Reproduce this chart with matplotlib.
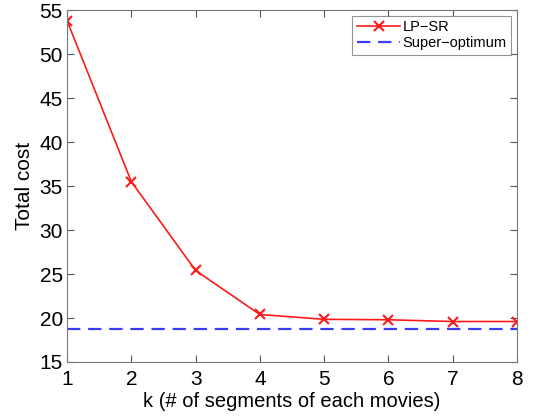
import matplotlib
matplotlib.use("Agg")
import matplotlib.pyplot as plt

k_values = [1, 2, 3, 4, 5, 6, 7, 8]
lp_sr = [53.8, 35.5, 25.4, 20.4, 19.85, 19.8, 19.6, 19.6]
super_optimum = 18.7
x_ticks = [1, 2, 3, 4, 5, 6, 7, 8]
y_ticks = [15, 20, 25, 30, 35, 40, 45, 50, 55]

plt.rcParams['font.family'] = ['Liberation Sans', 'DejaVu Sans']

fig = plt.figure(figsize=(5.34, 4.17), dpi=100)
ax = fig.add_axes([0.1255, 0.1319, 0.8427, 0.844])

ax.plot(k_values, lp_sr, color='#ff1a1a', marker='x', markersize=7, markeredgewidth=1.5,
        linewidth=1.2, label='LP\u2212SR')
ax.axhline(super_optimum, color='#3b3bff', linestyle=(0, (6, 3.5)), linewidth=1.6,
           label='Super\u2212optimum')

ax.set_xlim(1, 8)
ax.set_ylim(15, 55)
ax.set_xticks(x_ticks)
ax.set_yticks(y_ticks)
ax.tick_params(direction='in', top=True, right=True, labelsize=15, length=5,
               color='#555555')
ax.tick_params(axis='x', pad=6)
ax.tick_params(axis='y', pad=3)
for s in ax.spines.values():
    s.set_color('#777777')
ax.set_xlabel('k (# of segments of each movies)', fontsize=14.5, labelpad=2)
ax.set_ylabel('Total cost', fontsize=15, labelpad=4)

leg = ax.legend(loc='upper right', fontsize=10.5, frameon=True, fancybox=False,
                borderpad=0.3, handlelength=3.0, labelspacing=0.15, borderaxespad=0.4,
                handletextpad=0.15)
leg.get_frame().set_edgecolor('#777777')
leg.get_frame().set_linewidth(0.8)

fig.savefig('out.png', dpi=100)
